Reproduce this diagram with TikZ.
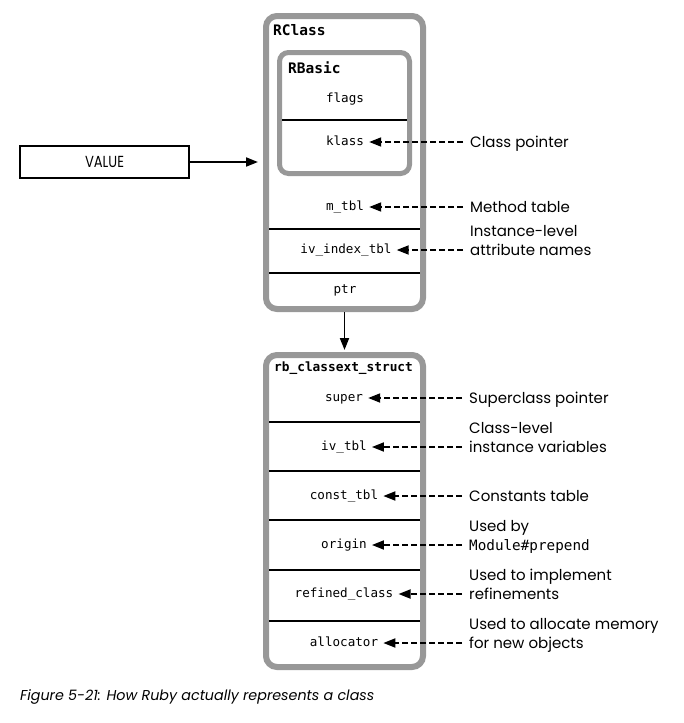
\documentclass[tikz,border=0pt]{standalone}
\usepackage{fontspec}
\setmainfont{Poppins}
\setmonofont{DejaVu Sans Mono}
\usetikzlibrary{arrows.meta}
\definecolor{boxgray}{RGB}{152,152,152}
\begin{document}
\begin{tikzpicture}[x=1pt,y=-1pt,
  outerbox/.style={draw=boxgray,line width=6pt,rounded corners=11pt,inner sep=0pt},
  innerbox/.style={draw=boxgray,line width=5pt,rounded corners=9pt,inner sep=0pt},
  divider/.style={draw=black,line width=1.6pt},
  field/.style={font=\fontsize{12.6}{14}\selectfont\ttfamily,inner sep=0pt,text height=9pt,text depth=3pt},
  titletext/.style={font=\fontsize{14.5}{16}\selectfont\ttfamily\bfseries,inner sep=0pt,anchor=west,text height=10pt,text depth=3pt},
  note/.style={font=\fontsize{15}{19}\selectfont,inner sep=0pt,anchor=west,align=left,text height=11pt,text depth=1pt},
  ptrarrow/.style={draw,line width=1.8pt,dash pattern=on 6pt off 3pt,-{Triangle[length=12pt,width=9pt]},shorten >=5pt,shorten <=7pt},
  solidarrow/.style={draw,line width=1.8pt,-{Triangle[length=12pt,width=9pt]}},
  valuebox/.style={draw=black,line width=1.6pt,minimum width=169pt,minimum height=32pt,inner sep=0pt,font=\fontsize{16}{18}\selectfont},
]
\useasboundingbox[fill=white] (0,0) rectangle (683,723);

% VALUE box
\node[valuebox] (value) at (104.5,162) {\scalebox{0.82}[1]{VALUE}};

% RClass box
\node[outerbox,minimum width=157pt,minimum height=293pt] (rclass) at (344.5,162.5) {};
\node[titletext] (rclasstitle) at (273,32) {RClass};

% RBasic box
\node[innerbox,minimum width=130pt,minimum height=121pt] (rbasic) at (344.5,113) {};
\node[titletext] (rbasictitle) at (288,70) {RBasic};
\draw[divider] (282,120) -- (407,120);

\node[field] (flags) at (345,99) {flags};
\node[field] (klass) at (345,142) {klass};
\node[field] (mtbl) at (345,207) {m\_tbl};
\draw[divider] (269,229) -- (420,229);
\node[field] (ivindex) at (346,250) {iv\_index\_tbl};
\draw[divider] (269,273) -- (420,273);
\node[field] (ptr) at (345,290) {ptr};

\node[note] (lklass) at (470,142) {Class pointer};
\node[note] (lmtbl) at (470,207) {Method table};
\node[note] (livindex) at (470,250) {Instance-level\\attribute names};

\draw[ptrarrow] (lklass.west) -- (klass.east);
\draw[ptrarrow] (lmtbl.west) -- (mtbl.east);
\draw[ptrarrow] (livindex.west) -- (ivindex.east);

% rb_classext_struct box
\node[outerbox,minimum width=157pt,minimum height=312pt] (rb) at (344.5,511) {};
\node[titletext,font=\fontsize{12.8}{15}\selectfont\ttfamily\bfseries] (rbtitle) at (274,368) {rb\_classext\_struct};

\node[field] (super) at (344,398) {super};
\draw[divider] (269,422) -- (420,422);
\node[field] (ivtbl) at (344,447) {iv\_tbl};
\draw[divider] (269,471) -- (420,471);
\node[field] (consttbl) at (344,496) {const\_tbl};
\draw[divider] (269,520) -- (420,520);
\node[field] (origin) at (344,545) {origin};
\draw[divider] (269,570) -- (420,570);
\node[field] (refined) at (344,594) {refined\_class};
\draw[divider] (269,621) -- (420,621);
\node[field] (allocator) at (344,643) {allocator};

\node[note] (lsuper) at (469,398) {Superclass pointer};
\node[note] (livtbl) at (469,447) {Class-level\\instance variables};
\node[note] (lconst) at (469,496) {Constants table};
\node[note] (lorigin) at (469,545) {Used by\\{\fontsize{14.3}{19}\selectfont\ttfamily Module\#prepend}};
\node[note] (lrefined) at (469,594) {Used to implement\\refinements};
\node[note] (lalloc) at (469,643) {Used to allocate memory\\for new objects};

\draw[ptrarrow] (lsuper.west) -- (super.east);
\draw[ptrarrow] (livtbl.west) -- (ivtbl.east);
\draw[ptrarrow] (lconst.west) -- (consttbl.east);
\draw[ptrarrow] (lorigin.west) -- (origin.east);
\draw[ptrarrow] (lrefined.west) -- (refined.east);
\draw[ptrarrow] (lalloc.west) -- (allocator.east);

% connectors between boxes
\draw[solidarrow,shorten >=5pt] (value.east) -- (rclass.west |- value.east);
\draw[solidarrow,shorten >=2pt] (rclass.south) -- (rb.north);

% caption
\node[font=\fontsize{14.3}{16}\selectfont\itshape,inner sep=0pt,anchor=west] (caption) at (20,697) {Figure 5-21: How Ruby actually represents a class};
\end{tikzpicture}
\end{document}
